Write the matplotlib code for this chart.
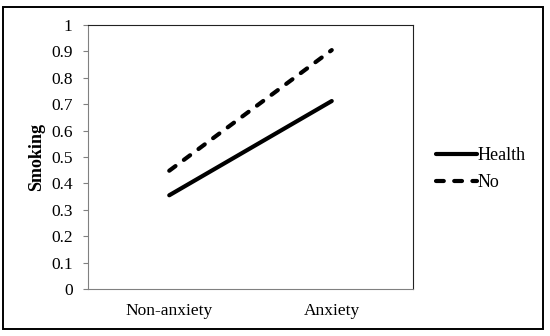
import matplotlib
matplotlib.use("Agg")
from matplotlib import pyplot as plt
from matplotlib.patches import Rectangle

categories = ["Non-anxiety", "Anxiety"]
health = [0.355, 0.712]
no_group = [0.448, 0.905]
y_ticks = [0, 0.1, 0.2, 0.3, 0.4, 0.5, 0.6, 0.7, 0.8, 0.9, 1]
y_tick_labels = ["0", "0.1", "0.2", "0.3", "0.4", "0.5", "0.6", "0.7", "0.8", "0.9", "1"]

plt.rcParams["font.family"] = ["Liberation Serif", "DejaVu Serif"]

fig = plt.figure(figsize=(5.5, 3.36), dpi=100)
W, H = 550, 336
ax = fig.add_axes([88 / W, 1 - 289 / H, (413 - 88) / W, (289 - 25) / H])

x = [0, 1]
ax.plot(x, health, color="black", lw=3.0, solid_capstyle="round", label="Health")
ax.plot(x, no_group, color="black", lw=3.0, ls=(0, (1.87, 2.5)),
        dash_capstyle="round", label="No")

ax.set_xlim(-0.5, 1.5)
ax.set_ylim(0, 1)
ax.set_xticks(x)
ax.set_xticklabels(categories, fontsize=12.5)
ax.set_yticks(y_ticks)
ax.set_yticklabels(y_tick_labels, fontsize=12.5)
ax.tick_params(axis="x", length=0, pad=10)
ax.tick_params(axis="y", length=3.6, width=0.8, color="#808080", pad=7.5)
ax.spines["left"].set_color("#808080")
ax.spines["bottom"].set_color("#808080")
for s in ["top", "right"]:
    ax.spines[s].set_color("#222222")
ax.set_ylabel("Smoking", fontsize=13, fontweight="bold")
ax.yaxis.set_label_coords((45 - 88) / 325, 0.5)

ax.legend(loc="center left", bbox_to_anchor=(1 + 23 / 325, (289 - 169) / 264),
          frameon=False, borderpad=0, borderaxespad=0, fontsize=13,
          handlelength=2.27, handletextpad=0.05, labelspacing=0.55)

fig.patches.append(Rectangle((3 / W, 1 - 329 / H), (543 - 3) / W, (329 - 7) / H,
                             transform=fig.transFigure, fill=False,
                             edgecolor="black", lw=1.4))

fig.savefig("out.png", dpi=100)
